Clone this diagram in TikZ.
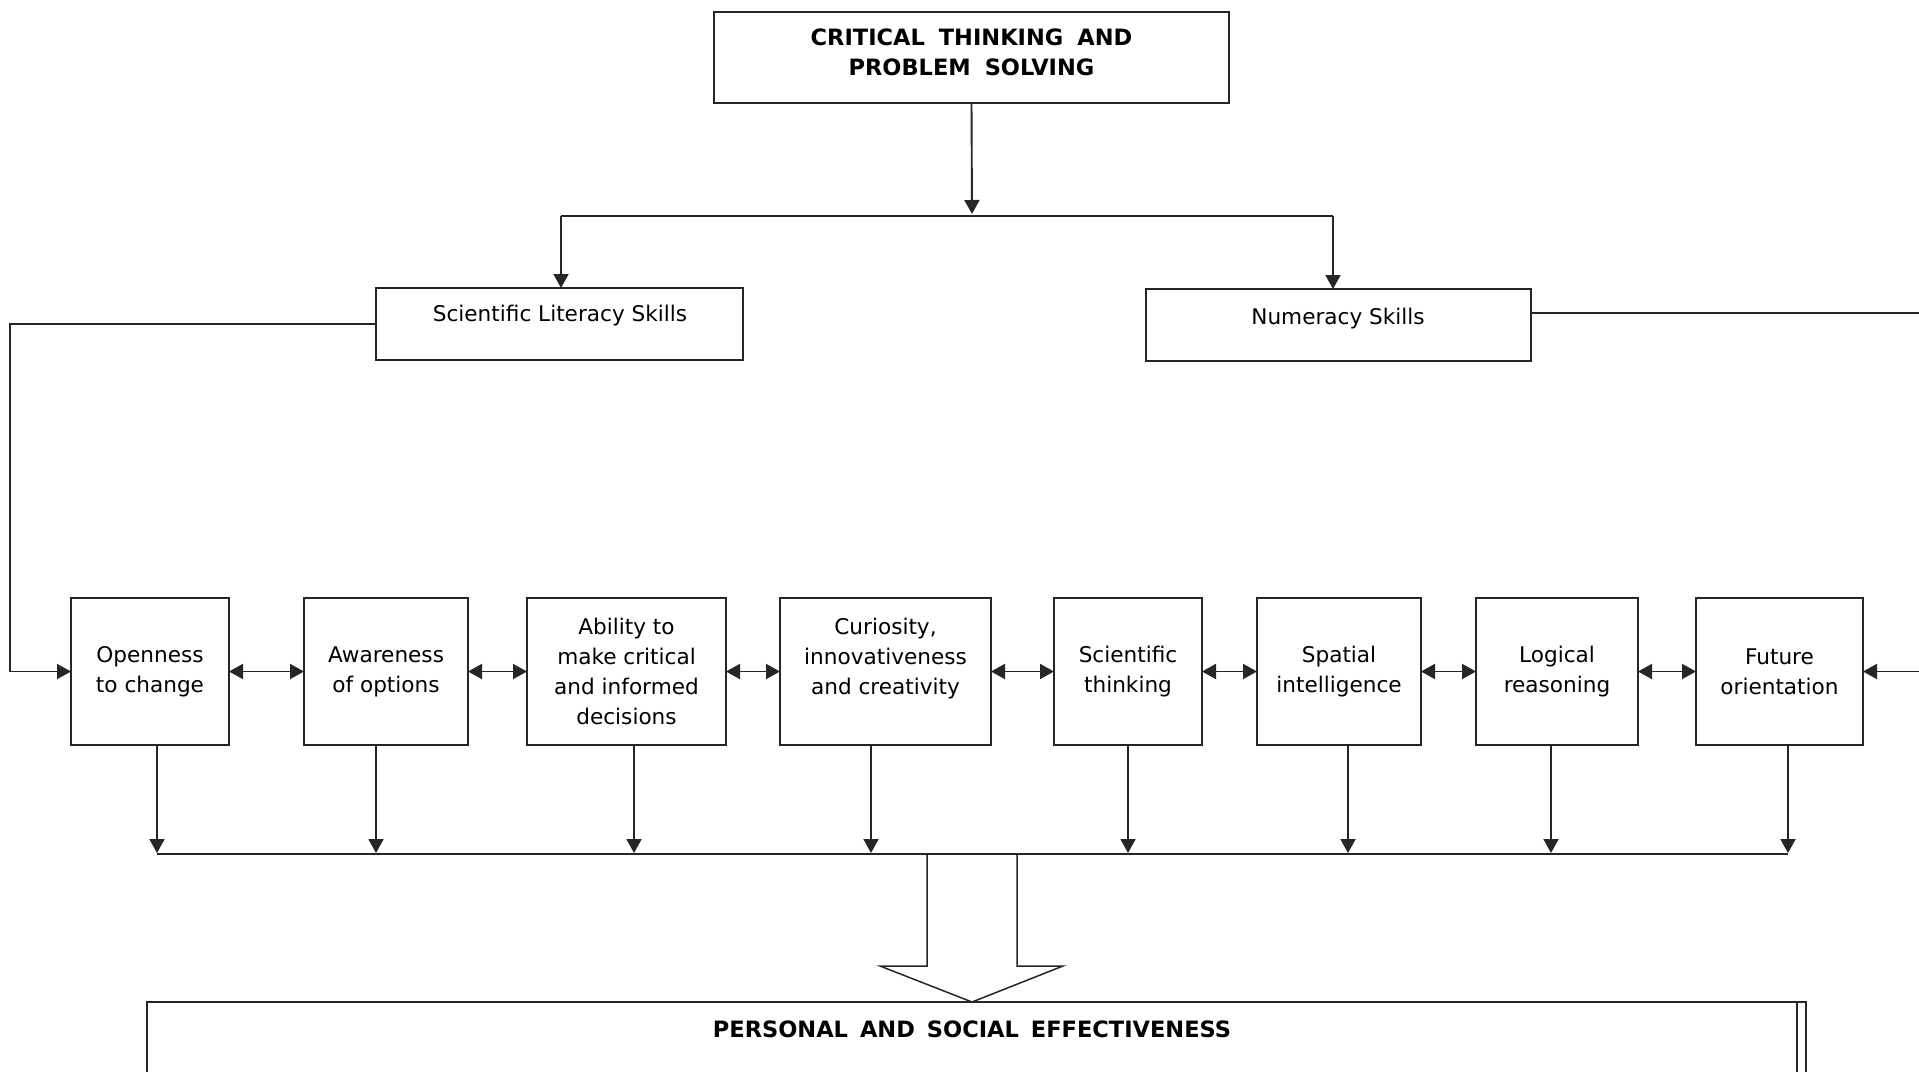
\documentclass[tikz,border=0pt]{standalone}
\usepackage{fontspec}
\setmainfont{DejaVu Sans}
\usetikzlibrary{arrows.meta}
\begin{document}
\begin{tikzpicture}[x=1pt,y=-1pt,
  box/.style={draw=black!85,line width=1.9pt,rectangle,inner sep=0pt,outer sep=0pt,
    font=\fontsize{21.6}{30}\selectfont,align=center},
  lbl/.style={inner sep=0pt,font=\fontsize{21.6}{30}\selectfont,align=center},
  blbl/.style={inner sep=0pt,font=\fontsize{22.5}{30}\selectfont\bfseries,align=center},
  conn/.style={line width=1.9pt,draw=black!85},
  tip/.style={conn,-{Triangle[length=14pt,width=15pt]}},
  dtip/.style={conn,{Triangle[length=14pt,width=15pt]}-{Triangle[length=14pt,width=15pt]}},
]
\useasboundingbox (0,0) rectangle (1919,1071);
\fill[white] (0,0) rectangle (1919,1071);

% top box
\node[box,minimum width=515pt,minimum height=91pt] (top) at (971.5,57.5) {};
\node[blbl] (toptxt) at (971.5,52) {CRITICAL\hspace{14pt}THINKING\hspace{14pt}AND\\PROBLEM\hspace{14pt}SOLVING};

% second level boxes
\node[box,minimum width=367pt,minimum height=72pt] (sls) at (559.5,324) {};
\node[lbl] (slstxt) at (560,316) {Scientific Literacy Skills};
\node[box,minimum width=385pt,minimum height=72pt] (ns) at (1338.5,325) {};
\node[lbl] (nstxt) at (1338,319) {Numeracy Skills};

% row of boxes
\node[box,minimum width=158pt,minimum height=147pt] (b1) at (150,671.5) {Openness\\to change};
\node[box,minimum width=164pt,minimum height=147pt] (b2) at (386,671.5) {Awareness\\of options};
\node[box,minimum width=199pt,minimum height=147pt] (b3) at (626.5,671.5) {Ability to\\make critical\\and informed\\decisions};
\node[box,minimum width=211pt,minimum height=147pt] (b4) at (885.5,671.5) {Curiosity,\\innovativeness\\and creativity\\\mbox{}};
\node[box,minimum width=148pt,minimum height=147pt] (b5) at (1128,671.5) {Scientific\\thinking};
\node[box,minimum width=164pt,minimum height=147pt] (b6) at (1339,671.5) {Spatial\\intelligence};
\node[box,minimum width=162pt,minimum height=147pt] (b7) at (1557,671.5) {Logical\\reasoning};
\node[box,minimum width=167pt,minimum height=147pt] (b8) at (1779.5,671.5) {Future\\orientation};

% junction coordinates
\coordinate (jc) at (972,216);
\coordinate (j1) at (561,216);
\coordinate (j2) at (1333,216);
\coordinate (lc) at (10,671.5);
\coordinate (rc1) at (1919,313);
\coordinate (rc2) at (1919,671.5);

\draw[tip,shorten >=2pt] (top.south) -- (jc);
\draw[conn] (j1) -- (j2);
\draw[tip] (j1) -- (sls.north -| j1);
\draw[tip] (j2) -- (ns.north -| j2);

\draw[conn] (sls.west) -| (lc);
\draw[tip] (lc) -- (b1.west);
\draw[conn] (ns.east |- rc1) -- (rc1);
\draw[tip] (rc2) -- (b8.east);

% double arrows
\draw[dtip] (b1.east) -- (b2.west);
\draw[dtip] (b2.east) -- (b3.west);
\draw[dtip] (b3.east) -- (b4.west);
\draw[dtip] (b4.east) -- (b5.west);
\draw[dtip] (b5.east) -- (b6.west);
\draw[dtip] (b6.east) -- (b7.west);
\draw[dtip] (b7.east) -- (b8.west);

% down arrows
\coordinate (d1) at (157,854);
\coordinate (d2) at (376,854);
\coordinate (d3) at (634,854);
\coordinate (d4) at (871,854);
\coordinate (d5) at (1128,854);
\coordinate (d6) at (1348,854);
\coordinate (d7) at (1551,854);
\coordinate (d8) at (1788,854);
\foreach \i in {1,...,8}{\draw[tip,shorten >=1pt] (b\i.south -| d\i) -- (d\i);}
\draw[conn] (d1) -- (d8);

% hollow arrow
\coordinate (ha) at (927,854);
\coordinate (hb) at (1017,854);
\draw[line width=1.5pt,draw=black!85,line join=miter] (ha) -- (927,966) -- (880,966) -- (972,1002) -- (1063,966) -- (1017,966) -- (hb);

% bottom box
\coordinate (bl) at (147,1080);
\coordinate (br) at (1806,1080);
\coordinate (bi) at (1797,1080);
\draw[conn] (bl) -- (147,1002) -- (1806,1002) -- (br);
\draw[conn] (1797,1002) -- (bi);
\node[blbl] (bottxt) at (972,1029) {PERSONAL\hspace{12pt}AND\hspace{12pt}SOCIAL\hspace{12pt}EFFECTIVENESS};
\end{tikzpicture}
\end{document}
